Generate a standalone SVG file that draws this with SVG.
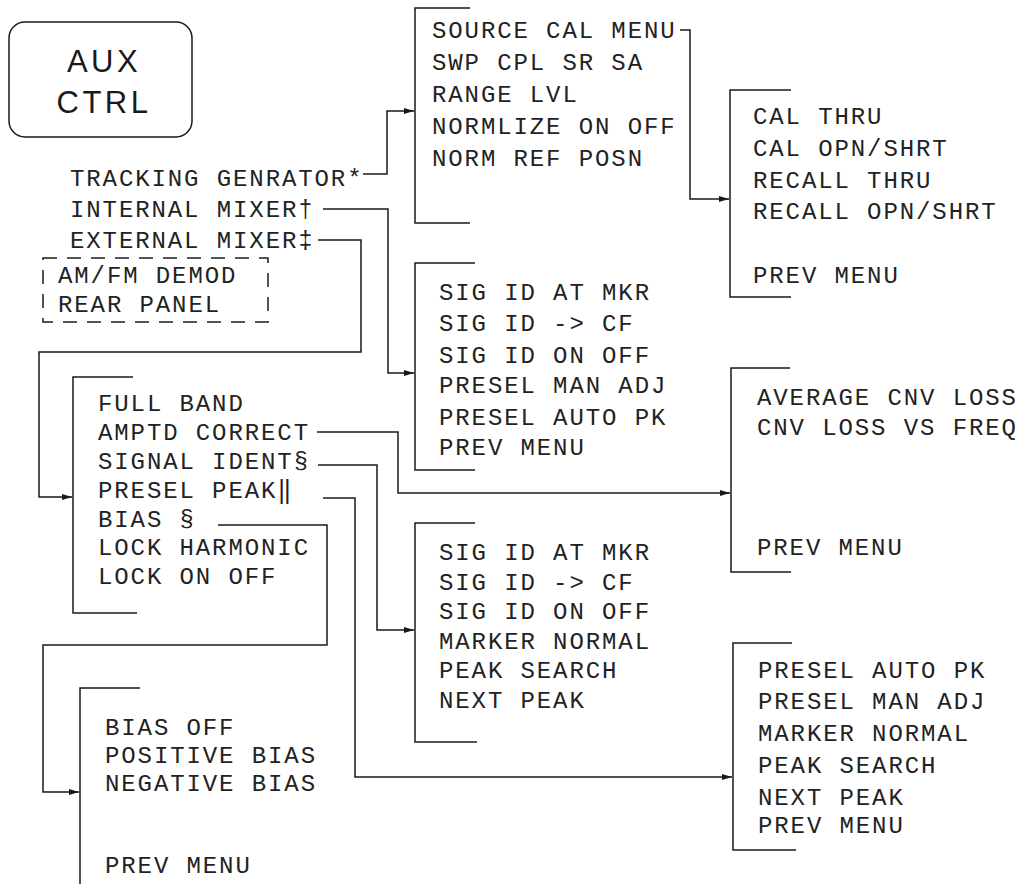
<svg xmlns="http://www.w3.org/2000/svg" width="1017" height="884" viewBox="0 0 1017 884">
<style>
  .t { font-family: "Liberation Mono", "DejaVu Sans Mono", monospace; font-size: 24px; letter-spacing: 1.9px; fill: #222222; }
  .big { font-family: "Liberation Sans", Arial, sans-serif; font-size: 31px; letter-spacing: 3.5px; fill: #1a1a1a; text-anchor: middle; }
  .ln { fill: none; stroke: #1a1a1a; stroke-width: 1.5; }
  .dash { fill: none; stroke: #1a1a1a; stroke-width: 1.5; stroke-dasharray: 14 10; }
</style>
<defs>
  <marker id="arr" viewBox="0 0 10 6" refX="10" refY="3" markerWidth="10" markerHeight="6" markerUnits="userSpaceOnUse" orient="auto">
    <path d="M0,0 L10,3 L0,6 z" fill="#1a1a1a"/>
  </marker>
</defs>
<rect width="1017" height="884" fill="#ffffff"/>

<g id="aux-ctrl">
  <rect x="9" y="22" width="183" height="115" rx="16" class="ln"/>
  <text x="104" y="72" class="big">AUX</text>
  <text x="104" y="113" class="big">CTRL</text>
</g>

<g id="aux-menu">
  <text x="70" y="186" class="t">TRACKING GENRATOR*</text>
  <text x="70" y="217" class="t">INTERNAL MIXER†</text>
  <text x="70" y="248" class="t">EXTERNAL MIXER‡</text>
</g>

<g id="optional-items">
  <rect x="43" y="258" width="225" height="64" class="dash"/>
  <text x="58" y="283" class="t">AM/FM DEMOD</text>
  <text x="58" y="312" class="t">REAR PANEL</text>
</g>

<g id="tracking-gen-menu">
  <path d="M470,8 H415 V223 H470" class="ln"/>
  <text x="432" y="38" class="t">SOURCE CAL MENU</text>
  <text x="432" y="70" class="t">SWP CPL SR SA</text>
  <text x="432" y="102" class="t">RANGE LVL</text>
  <text x="432" y="134" class="t">NORMLIZE ON OFF</text>
  <text x="432" y="166" class="t">NORM REF POSN</text>
</g>

<g id="source-cal-menu">
  <path d="M791,90 H730 V297 H791" class="ln"/>
  <text x="753" y="124" class="t">CAL THRU</text>
  <text x="753" y="156" class="t">CAL OPN/SHRT</text>
  <text x="753" y="188" class="t">RECALL THRU</text>
  <text x="753" y="219" class="t">RECALL OPN/SHRT</text>
  <text x="753" y="283" class="t">PREV MENU</text>
</g>

<g id="internal-mixer-menu">
  <path d="M475,263 H415 V470 H475" class="ln"/>
  <text x="439" y="300" class="t">SIG ID AT MKR</text>
  <text x="439" y="331" class="t">SIG ID -&gt; CF</text>
  <text x="439" y="363" class="t">SIG ID ON OFF</text>
  <text x="439" y="393" class="t">PRESEL MAN ADJ</text>
  <text x="439" y="425" class="t">PRESEL AUTO PK</text>
  <text x="439" y="455" class="t">PREV MENU</text>
</g>

<g id="amptd-correct-menu">
  <path d="M790,368 H731 V572 H791" class="ln"/>
  <text x="757" y="405" class="t">AVERAGE CNV LOSS</text>
  <text x="757" y="435" class="t">CNV LOSS VS FREQ</text>
  <text x="757" y="555" class="t">PREV MENU</text>
</g>

<g id="external-mixer-menu">
  <path d="M133,377 H73 V613 H137" class="ln"/>
  <text x="98" y="411" class="t">FULL BAND</text>
  <text x="98" y="440" class="t">AMPTD CORRECT</text>
  <text x="98" y="469" class="t">SIGNAL IDENT§</text>
  <text x="98" y="498" class="t">PRESEL PEAK‖</text>
  <text x="98" y="527" class="t">BIAS §</text>
  <text x="98" y="555" class="t">LOCK HARMONIC</text>
  <text x="98" y="584" class="t">LOCK ON OFF</text>
</g>

<g id="signal-ident-menu">
  <path d="M475,523 H415 V742 H477" class="ln"/>
  <text x="439" y="560" class="t">SIG ID AT MKR</text>
  <text x="439" y="590" class="t">SIG ID -&gt; CF</text>
  <text x="439" y="619" class="t">SIG ID ON OFF</text>
  <text x="439" y="649" class="t">MARKER NORMAL</text>
  <text x="439" y="678" class="t">PEAK SEARCH</text>
  <text x="439" y="708" class="t">NEXT PEAK</text>
</g>

<g id="presel-peak-menu">
  <path d="M792,643 H733 V850 H796" class="ln"/>
  <text x="758" y="678" class="t">PRESEL AUTO PK</text>
  <text x="758" y="709" class="t">PRESEL MAN ADJ</text>
  <text x="758" y="741" class="t">MARKER NORMAL</text>
  <text x="758" y="773" class="t">PEAK SEARCH</text>
  <text x="758" y="805" class="t">NEXT PEAK</text>
  <text x="758" y="833" class="t">PREV MENU</text>
</g>

<g id="bias-menu">
  <path d="M140,688 H80 V884" class="ln"/>
  <text x="105" y="735" class="t">BIAS OFF</text>
  <text x="105" y="763" class="t">POSITIVE BIAS</text>
  <text x="105" y="791" class="t">NEGATIVE BIAS</text>
  <text x="105" y="873" class="t">PREV MENU</text>
</g>

<g id="connectors">
  <path d="M363,174 H387 V111 H414" class="ln" marker-end="url(#arr)"/>
  <path d="M323,209 H388 V373 H414" class="ln" marker-end="url(#arr)"/>
  <path d="M318,240 H361 V352 H39 V497 H72" class="ln" marker-end="url(#arr)"/>
  <path d="M680,30 H690 V199 H729" class="ln" marker-end="url(#arr)"/>
  <path d="M317,432 H398 V493 H730" class="ln" marker-end="url(#arr)"/>
  <path d="M318,465 H377 V630 H414" class="ln" marker-end="url(#arr)"/>
  <path d="M323,498 H355 V777 H732" class="ln" marker-end="url(#arr)"/>
  <path d="M218,525 H327 V645 H43 V792 H79" class="ln" marker-end="url(#arr)"/>
</g>
</svg>
